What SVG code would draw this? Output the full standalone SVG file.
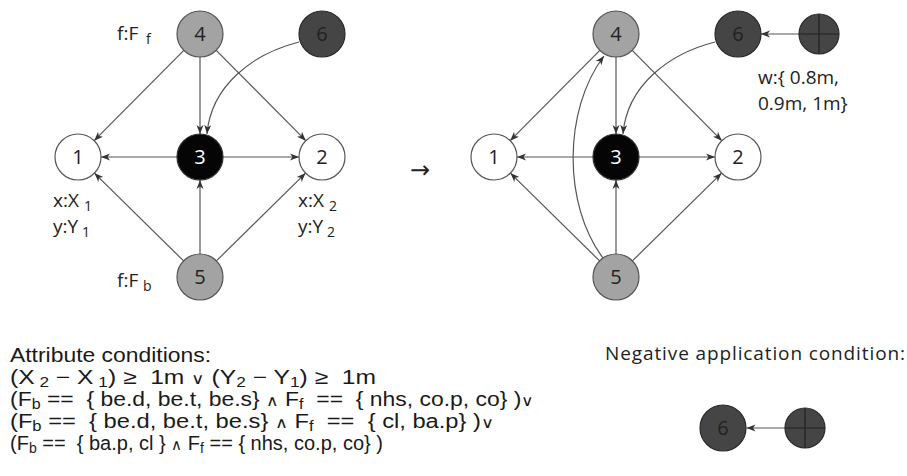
<svg xmlns="http://www.w3.org/2000/svg" width="907" height="476" viewBox="0 0 907 476">
<style>
.edge{fill:none;stroke:#555;stroke-width:1.2;marker-end:url(#ah)}
.nlight{fill:#a3a3a3;stroke:#555;stroke-width:1.2}
.nwhite{fill:#fff;stroke:#555;stroke-width:1.2}
.nblack{fill:#050505;stroke:#333;stroke-width:1.2}
.ndark{fill:#454545;stroke:#2a2a2a;stroke-width:1.2}
.num{font-family:"Open Sans","Noto Sans",sans-serif;font-size:20px;fill:#222;text-anchor:middle}
.lbl{font-family:"Open Sans","Noto Sans",sans-serif;font-size:19px;fill:#222}
.sub{font-size:14px}
.cond{font-family:"Liberation Sans",Arial,sans-serif;font-size:20px;fill:#1a1a1a;white-space:pre}
.op{font-size:15px}
.cross{stroke:#222;stroke-width:1.2}
</style>
<defs>
<marker id="ah" viewBox="-10 -5 12 10" refX="0" refY="0" markerWidth="12" markerHeight="10" markerUnits="userSpaceOnUse" orient="auto">
<path d="M0,0 L-9,-3.5 L-6.5,0 L-9,3.5 Z" fill="#333"/>
</marker>
</defs>

<g id="connectors">
<line class="edge" x1="183.8" y1="50.3" x2="94.2" y2="140.7"/>
<line class="edge" x1="200" y1="57" x2="200" y2="134"/>
<line class="edge" x1="216.2" y1="50.3" x2="305.8" y2="140.7"/>
<path class="edge" d="M299,42 C252,54 211,86 207,134"/>
<line class="edge" x1="177" y1="157" x2="101" y2="157"/>
<line class="edge" x1="223" y1="157" x2="299" y2="157"/>
<line class="edge" x1="183.6" y1="260.9" x2="94.4" y2="173.1"/>
<line class="edge" x1="200" y1="254" x2="200" y2="180"/>
<line class="edge" x1="216.4" y1="260.9" x2="305.6" y2="173.1"/>
<line class="edge" x1="599.8" y1="50.3" x2="510.2" y2="140.7"/>
<line class="edge" x1="616" y1="57" x2="616" y2="134"/>
<line class="edge" x1="632.2" y1="50.3" x2="721.8" y2="140.7"/>
<path class="edge" d="M715,42 C668,54 627,86 623,134"/>
<line class="edge" x1="593" y1="157" x2="517" y2="157"/>
<line class="edge" x1="639" y1="157" x2="715" y2="157"/>
<line class="edge" x1="599.6" y1="260.9" x2="510.4" y2="173.1"/>
<line class="edge" x1="616" y1="254" x2="616" y2="180"/>
<line class="edge" x1="632.4" y1="260.9" x2="721.6" y2="173.1"/>
<path class="edge" d="M603,258 C563,205 563,110 604,56"/>
<line class="edge" x1="799" y1="34" x2="761" y2="34"/>
<line class="edge" x1="785" y1="428" x2="746.5" y2="428"/>
</g>

<g id="L4"><circle class="nlight" cx="200" cy="34" r="23"/><text class="num" x="200" y="41">4</text></g>
<g id="L6"><circle class="ndark" cx="322" cy="34" r="23"/><text class="num" x="322" y="41">6</text></g>
<g id="L1"><circle class="nwhite" cx="78" cy="157" r="23"/><text class="num" x="78" y="164">1</text></g>
<g id="L3"><circle class="nblack" cx="200" cy="157" r="23"/><text class="num" x="200" y="164" style="fill:#fff">3</text></g>
<g id="L2"><circle class="nwhite" cx="322" cy="157" r="23"/><text class="num" x="322" y="164">2</text></g>
<g id="L5"><circle class="nlight" cx="200" cy="277" r="23"/><text class="num" x="200" y="284">5</text></g>

<g id="R4"><circle class="nlight" cx="616" cy="34" r="23"/><text class="num" x="616" y="41">4</text></g>
<g id="R6"><circle class="ndark" cx="738" cy="34" r="23"/><text class="num" x="738" y="41">6</text></g>
<g id="Rplus"><circle class="ndark" cx="819" cy="34" r="20"/><line class="cross" x1="799" y1="34" x2="839" y2="34"/><line class="cross" x1="819" y1="14" x2="819" y2="54"/></g>
<g id="R1"><circle class="nwhite" cx="494" cy="157" r="23"/><text class="num" x="494" y="164">1</text></g>
<g id="R3"><circle class="nblack" cx="616" cy="157" r="23"/><text class="num" x="616" y="164" style="fill:#fff">3</text></g>
<g id="R2"><circle class="nwhite" cx="738" cy="157" r="23"/><text class="num" x="738" y="164">2</text></g>
<g id="R5"><circle class="nlight" cx="616" cy="277" r="23"/><text class="num" x="616" y="284">5</text></g>

<g id="N6"><circle class="ndark" cx="723" cy="428" r="23"/><text class="num" x="723" y="435">6</text></g>
<g id="Nplus"><circle class="ndark" cx="805" cy="428" r="20"/><line class="cross" x1="785" y1="428" x2="825" y2="428"/><line class="cross" x1="805" y1="408" x2="805" y2="448"/></g>

<g id="labels">
<text class="lbl" x="117" y="40">f:F<tspan class="sub" x="146" y="44">f</tspan></text>
<text class="lbl" x="117" y="287">f:F<tspan class="sub" x="143" y="291">b</tspan></text>
<text class="lbl" x="53" y="207">x:X<tspan class="sub" x="84" y="211">1</tspan></text>
<text class="lbl" x="53" y="233">y:Y<tspan class="sub" x="82" y="237">1</tspan></text>
<text class="lbl" x="298" y="207">x:X<tspan class="sub" x="329" y="211">2</tspan></text>
<text class="lbl" x="298" y="233">y:Y<tspan class="sub" x="327" y="237">2</tspan></text>
<text class="lbl" x="758" y="84">w:{ 0.8m,</text>
<text class="lbl" x="758" y="110">0.9m, 1m}</text>
<text x="420" y="178" style="font-family:'DejaVu Sans',sans-serif;font-size:24px;fill:#222;text-anchor:middle">→</text>
<text class="lbl" x="605" y="360" textLength="300">Negative application condition:</text>
</g>

<g id="conditions">
<text class="cond" x="10" y="362" textLength="201" lengthAdjust="spacingAndGlyphs">Attribute conditions:</text>
<text class="cond" x="10" y="384" textLength="366" lengthAdjust="spacingAndGlyphs">(X<tspan class="sub" dy="3"> 2</tspan><tspan dy="-3"> − X</tspan><tspan class="sub" dy="3"> 1</tspan><tspan dy="-3">) ≥  1m </tspan><tspan class="op">∨</tspan> (Y<tspan class="sub" dy="3">2</tspan><tspan dy="-3"> − Y</tspan><tspan class="sub" dy="3">1</tspan><tspan dy="-3">) ≥  1m</tspan></text>
<text class="cond" x="10" y="406" textLength="524" lengthAdjust="spacingAndGlyphs">(F<tspan class="sub" dy="3">b</tspan><tspan dy="-3"> ==  { be.d, be.t, be.s} </tspan><tspan class="op">∧</tspan> F<tspan class="sub" dy="3">f</tspan><tspan dy="-3">  ==  { nhs, co.p, co} )</tspan><tspan class="op">∨</tspan></text>
<text class="cond" x="10" y="428" textLength="484" lengthAdjust="spacingAndGlyphs">(F<tspan class="sub" dy="3">b</tspan><tspan dy="-3"> ==  { be.d, be.t, be.s} </tspan><tspan class="op">∧</tspan> F<tspan class="sub" dy="3">f</tspan><tspan dy="-3">  ==  { cl, ba.p} )</tspan><tspan class="op">∨</tspan></text>
<text class="cond" x="10" y="450">(F<tspan class="sub" dy="3">b</tspan><tspan dy="-3"> ==  { ba.p, cl } </tspan><tspan class="op">∧</tspan> F<tspan class="sub" dy="3">f</tspan><tspan dy="-3"> == { nhs, co.p, co} )</tspan></text>
</g>
</svg>
